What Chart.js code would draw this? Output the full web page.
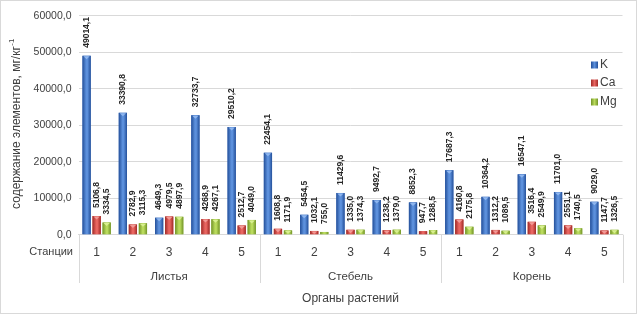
<!DOCTYPE html>
<html>
<head>
<meta charset="utf-8">
<script src="https://cdn.jsdelivr.net/npm/chart.js@4.4.1/dist/chart.umd.min.js"></script>
<style>
html,body{margin:0;padding:0;background:#fff;}
#wrap{width:637px;height:314px;position:relative;}
</style>
</head>
<body>
<div id="wrap"><canvas id="c" width="637" height="314"></canvas></div>
<script>
const groups = ['Листья', 'Стебель', 'Корень'];
const stations = ['1', '2', '3', '4', '5'];
const seriesNames = ['K', 'Ca', 'Mg'];
const valuesK  = [49014.1, 33390.8, 4649.3, 32733.7, 29510.2, 22454.1, 5454.5, 11429.6, 9492.7, 8852.3, 17687.3, 10364.2, 16547.1, 11701.0, 9029.0];
const valuesCa = [5106.8, 2782.9, 4979.5, 4268.9, 2512.7, 1608.8, 1032.1, 1335.0, 1238.2, 947.7, 4160.8, 1312.2, 3516.4, 2551.1, 1147.7];
const valuesMg = [3334.5, 3115.3, 4897.9, 4267.1, 4049.0, 1171.9, 755.0, 1374.3, 1379.0, 1288.5, 2175.8, 1089.5, 2549.9, 1740.5, 1326.5];
const yTicks = [0, 10000, 20000, 30000, 40000, 50000, 60000];
const yTitle = 'содержание элементов, мг/кг';
const yTitleSup = '-1';
const xTitle = 'Органы растений';
const stationLabel = 'Станции';

const FONT = '"Liberation Sans", Arial, sans-serif';
const palette = [
  {base:'#3a6cbf', edge:'#24509a', mid:'#5c90dc', cap:'#8fb6ee'},
  {base:'#c9403b', edge:'#a02a27', mid:'#e86560', cap:'#f29a96'},
  {base:'#95bb3c', edge:'#729428', mid:'#b9da5c', cap:'#d8ef90'}
];
const fmt = v => v.toFixed(1).replace('.', ',');

const labels = [];
groups.forEach(() => stations.forEach(s => labels.push(s)));
const seriesValues = [valuesK, valuesCa, valuesMg];

const decorPlugin = {
  id: 'decor',
  beforeDraw(chart) {
    const ctx = chart.ctx;
    ctx.save();
    ctx.strokeStyle = '#d9d9d9';
    ctx.lineWidth = 1;
    ctx.strokeRect(0.5, 0.5, chart.width - 1, chart.height - 1);
    ctx.restore();
  },
  afterDatasetsDraw(chart) {
    const ctx = chart.ctx;
    ctx.save();
    chart.data.datasets.forEach((ds, di) => {
      const meta = chart.getDatasetMeta(di);
      const p = palette[di];
      meta.data.forEach((bar, i) => {
        const w = bar.width, l = bar.x - w / 2, t = bar.y, h = bar.base - bar.y;
        const g = ctx.createLinearGradient(l, 0, l + w, 0);
        g.addColorStop(0, p.edge);
        g.addColorStop(0.45, p.mid);
        g.addColorStop(0.6, p.mid);
        g.addColorStop(1, p.edge);
        ctx.fillStyle = g;
        ctx.fillRect(l, t, w, h);
        if (h > 3) {
          ctx.fillStyle = p.cap;
          ctx.beginPath();
          ctx.moveTo(l + 1, t + 0.5);
          ctx.lineTo(l + w - 1, t + 0.5);
          ctx.lineTo(bar.x, t + Math.min(3.5, h - 0.5));
          ctx.closePath();
          ctx.fill();
        }
        // data label
        ctx.save();
        ctx.translate(bar.x, t - 8);
        ctx.rotate(-Math.PI / 2);
        ctx.fillStyle = '#262626';
        ctx.font = 'bold 8.5px ' + FONT;
        ctx.textAlign = 'left';
        ctx.textBaseline = 'middle';
        ctx.fillText(fmt(ds.data[i]), 0, 0);
        ctx.restore();
      });
    });
    ctx.restore();
  },
  afterDraw(chart) {
    const ctx = chart.ctx;
    const a = chart.chartArea;
    ctx.save();
    // group separators
    ctx.strokeStyle = '#d9d9d9';
    ctx.lineWidth = 1;
    const n = stations.length;
    const catW = (a.right - a.left) / labels.length;
    for (let gi = 0; gi <= groups.length; gi++) {
      const px = Math.round(a.left + gi * n * catW) + 0.5;
      ctx.beginPath();
      ctx.moveTo(px, a.bottom);
      ctx.lineTo(px, 283);
      ctx.stroke();
    }
    // group labels
    ctx.fillStyle = '#404040';
    ctx.font = '11.5px ' + FONT;
    ctx.textAlign = 'center';
    ctx.textBaseline = 'middle';
    groups.forEach((g, gi) => {
      const cx = a.left + (gi * n + n / 2) * catW;
      ctx.fillText(g, cx, 277);
    });
    // station label
    ctx.textAlign = 'right';
    ctx.font = '11px ' + FONT;
    ctx.fillText(stationLabel, 73, 252);
    // x title
    ctx.textAlign = 'center';
    ctx.font = '12px ' + FONT;
    ctx.fillText(xTitle, (a.left + a.right) / 2, 299);
    // y title with superscript
    ctx.save();
    ctx.translate(17, 124);
    ctx.rotate(-Math.PI / 2);
    ctx.font = '12px ' + FONT;
    const w1 = ctx.measureText(yTitle).width;
    ctx.font = '8px ' + FONT;
    const w2 = ctx.measureText(yTitleSup).width;
    const start = -(w1 + w2) / 2;
    ctx.textAlign = 'left';
    ctx.font = '12px ' + FONT;
    ctx.fillText(yTitle, start, 0);
    ctx.font = '8px ' + FONT;
    ctx.fillText(yTitleSup, start + w1 + 0.5, -5);
    ctx.restore();
    // legend
    const ly = [65, 83, 102];
    seriesNames.forEach((s, si) => {
      const p = palette[si];
      const g = ctx.createLinearGradient(591, 0, 598, 0);
      g.addColorStop(0, p.edge); g.addColorStop(0.5, p.mid); g.addColorStop(1, p.edge);
      ctx.fillStyle = g;
      ctx.fillRect(591, ly[si] - 3.5, 7, 7);
      ctx.fillStyle = '#404040';
      ctx.font = '12px ' + FONT;
      ctx.textAlign = 'left';
      ctx.textBaseline = 'middle';
      ctx.fillText(s, 600, ly[si]);
    });
    ctx.restore();
  }
};

new Chart(document.getElementById('c'), {
  type: 'bar',
  data: {
    labels: labels,
    datasets: seriesNames.map((name, i) => ({
      label: name,
      data: seriesValues[i],
      backgroundColor: palette[i].base,
      borderWidth: 0,
      categoryPercentage: 0.83,
      barPercentage: 0.82
    }))
  },
  options: {
    responsive: false,
    animation: false,
    devicePixelRatio: 1,
    layout: { padding: { left: 0, top: 15.7, right: 14.5, bottom: 0 } },
    plugins: { legend: { display: false }, tooltip: { enabled: false } },
    scales: {
      x: {
        grid: { display: false, drawTicks: false },
        border: { display: true, color: '#d9d9d9', width: 1 },
        ticks: { color: '#404040', font: { size: 12, family: FONT }, padding: 11, maxRotation: 0, autoSkip: false },
        afterFit(s) { s.height = 79.3; }
      },
      y: {
        min: 0, max: 60000,
        afterBuildTicks(s) { s.ticks = yTicks.map(v => ({ value: v })); },
        grid: { color: '#d9d9d9', drawTicks: false },
        border: { display: false },
        ticks: { color: '#404040', font: { size: 10.5, family: FONT }, padding: 7, callback: v => fmt(v) },
        afterFit(s) { s.width = 78.5; }
      }
    }
  },
  plugins: [decorPlugin]
});
</script>
</body>
</html>
